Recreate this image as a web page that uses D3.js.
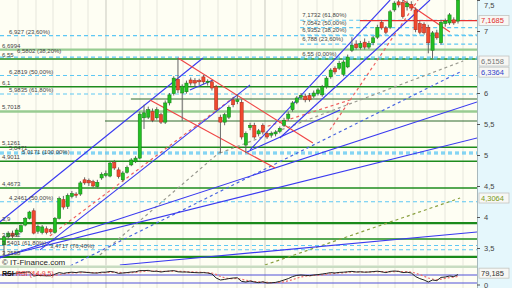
<!DOCTYPE html>
<html><head><meta charset="utf-8">
<script src="https://cdn.jsdelivr.net/npm/d3@7"></script>
<style>body{margin:0;background:#fff}svg{display:block;font-family:"Liberation Sans",Arial,sans-serif}</style>
</head><body><svg id="c" width="512" height="288"></svg>
<script>
// ---------- DATA ----------
const opens  = [3.55,3.68,3.74,3.71,3.76,3.87,3.98,4.10,3.77,3.75,3.81,3.80,3.75,3.98,4.28,4.17,4.33,4.37,4.37,4.60,4.59,4.57,4.49,4.63,4.67,4.66,4.88,4.76,4.60,4.72,4.84,4.89,4.95,5.60,5.61,5.70,5.60,5.65,5.53,5.84,5.99,6.22,6.00,6.02,6.21,6.20,6.20,6.26,6.17,6.18,6.10,5.61,5.53,5.61,5.89,5.86,5.85,5.16,5.44,5.48,5.34,5.48,5.35,5.32,5.34,5.38,5.48,5.59,5.73,5.85,5.93,5.95,5.96,5.95,5.99,5.97,6.10,6.26,6.40,6.40,6.30,6.42,6.69,6.79,6.73,6.82,6.74,6.81,6.90,7.14,7.05,7.06,7.34,7.47,7.46,7.39,7.43,7.34,7.12,7.11,7.06,6.69,6.97,6.81,7.12,7.13,7.18,7.16];
const highs  = [3.70,3.77,3.78,3.82,3.88,4.00,4.10,4.14,3.88,3.87,3.85,3.82,4.00,4.33,4.34,4.38,4.42,4.40,4.58,4.64,4.62,4.60,4.60,4.72,4.75,4.90,4.92,4.80,4.74,4.83,4.95,4.98,5.70,5.81,5.78,5.75,5.77,5.68,5.88,6.00,6.27,6.565,6.14,6.20,6.25,6.24,6.23,6.29,6.22,6.21,6.13,5.65,5.68,5.80,5.93,5.98,5.90,5.38,5.52,5.52,5.42,5.51,5.38,5.38,5.40,5.46,5.60,5.70,5.87,5.95,6.00,5.99,6.00,6.04,6.08,6.13,6.27,6.40,6.43,6.52,6.53,6.62,6.90,6.85,6.84,6.88,6.84,6.92,7.10,7.18,7.08,7.34,7.48,7.50,7.50,7.49,7.48,7.38,7.16,7.14,7.10,7.00,7.02,7.18,7.20,7.29,7.22,7.55];
const lows   = [3.36,3.64,3.66,3.68,3.74,3.85,3.96,3.72,3.73,3.72,3.72,3.73,3.73,3.96,4.12,4.13,4.30,4.31,4.34,4.52,4.50,4.47,4.46,4.60,4.64,4.64,4.76,4.62,4.57,4.70,4.82,4.87,4.93,5.42,5.58,5.53,5.57,5.50,5.50,5.80,5.96,6.00,5.55,5.99,6.12,6.10,6.13,6.14,6.12,6.04,5.70,5.03,5.48,5.58,5.77,5.82,5.25,5.03,5.40,5.26,5.30,5.33,5.26,5.28,5.30,5.35,5.45,5.55,5.70,5.82,5.90,5.85,5.86,5.92,5.96,5.94,6.07,6.23,6.30,6.37,6.27,6.40,6.66,6.70,6.70,6.70,6.71,6.77,6.87,7.02,6.95,7.03,7.31,7.38,7.20,7.33,7.34,6.98,6.95,6.94,6.64,6.56,6.86,6.78,7.07,7.10,7.10,7.12];
const closes = [3.68,3.74,3.69,3.79,3.86,3.98,4.08,3.74,3.85,3.84,3.75,3.76,3.98,4.30,4.16,4.35,4.38,4.35,4.55,4.55,4.55,4.50,4.56,4.69,4.70,4.87,4.79,4.65,4.71,4.80,4.92,4.95,5.66,5.68,5.73,5.56,5.73,5.53,5.84,5.97,6.24,6.05,6.11,6.16,6.16,6.16,6.18,6.18,6.19,6.08,5.73,5.53,5.65,5.77,5.81,5.89,5.29,5.35,5.48,5.29,5.39,5.37,5.29,5.35,5.37,5.43,5.56,5.66,5.84,5.92,5.96,5.89,5.89,6.00,6.05,6.10,6.24,6.37,6.34,6.48,6.50,6.58,6.77,6.73,6.80,6.74,6.80,6.89,7.06,7.05,6.98,7.31,7.45,7.42,7.23,7.45,7.37,7.02,6.98,6.97,6.81,6.97,6.89,7.14,7.16,7.26,7.13,7.50];

const rsiValues = [75,78,76,80,82,84,86,65,68,67,66,66,74,82,78,82,84,82,86,84,82,80,80,84,84,88,85,78,80,82,85,86,92,92,93,88,89,85,88,90,92,86,85,85,83,82,81,82,80,75,55,45,48,52,55,56,38,35,40,35,32,36,30,31,33,38,45,52,62,68,70,68,67,70,72,75,78,82,80,83,84,86,88,85,86,84,85,87,89,86,82,88,90,88,82,84,80,62,52,45,35,45,42,58,60,65,62,72];
const signalValues = [74,75,76,77,78,80,82,79,76,73,70,68,69,72,75,78,80,81,82,83,83,82,81,81,82,83,84,83,82,81,82,83,86,88,90,90,89,88,88,88,89,89,88,87,86,85,84,83,82,80,73,63,56,52,52,53,49,44,41,38,36,35,33,32,32,33,36,41,47,54,60,64,66,68,69,71,73,76,78,80,81,83,85,85,85,85,85,86,87,87,86,86,87,88,87,86,85,79,72,64,55,50,46,49,53,57,59,63];

// horizontal levels (left)
const levelValues = [6.927,6.6994,6.5802,6.55,6.2819,6.1,5.9835,5.7018,5.1261,5.0471,5.0171,4.9011,4.4673,4.2461,3.9,3.6462,3.5401,3.4717,3.3558];
const levelLabels = ["6,927 (23,60%)","6,6994","6,5802 (38,20%)","6,55","6,2819 (50,00%)","6,1","5,9835 (61,80%)","5,7018","5,1261","5,0471","5,0171 (100,00%)","4,9011","4,4673","4,2461 (50,00%)","3,9","3,6462","3,5401 (61,80%)","3,4717 (76,40%)","3,3558"];
const levelKinds  = ["fib","light","fib","green","fib","green","fib","light","green","fib","fib","green","green","fib","thick","green","fib","fib","thick"];
// partial support lines [startIndex, value]
const partialLevels = [[29.9,5.903],[23.8,5.548]];
// right fib
const rightFibValues = [7.1732,7.0542,6.9352,6.788,6.55];
const rightFibLabels = ["7,1732 (61,80%)","7,0542 (50,00%)","6,9352 (38,20%)","6,788 (23,60%)","6,55 (0,00%)"];
const rightFibStart = 69.8;
const lastPrice = 7.1685, lastPriceStart = 83.9;

// trend lines [i1,v1,i2,v2]
const blueLines = [[-1,3.92,46.9,6.565],[8.5,3.47,58,6.13],[58,5.081,91,7.5],[65,5.274,100.4,7.5],[-1,3.339,111.5,5.855],[-1,3.355,111.5,5.274],[27.3,3.226,111.5,3.758],[57.3,5.048,79.2,5.726],[43.8,6.048,49.3,6.21]];
const redLines = [[41,6.565,72.8,5.194],[34.4,5.887,63.9,4.79],[94,7.5,105.1,6.984]];
const redDashed = [[10.8,3.694,54.9,5.968],[76.8,5.403,97.6,7.5],[60.8,5.435,81.5,5.887]];
const grayDashed = [[22.6,3.387,50.9,5.048],[50.9,5.032,108.2,6.516]];
const blueDashed = [[15.6,3.21,107.5,6.339]];
const oliveDashed = [[61.5,3.226,107.5,4.306]];

const gridIdx = [3.3,7.54,11.55,15.79,19.8,24.04,28.05,32.05,36.06,42.19,46.19,50.44,54.91,58.21,61.51,65.52,69.29,73.77,77.54,83.9,88.15,92.15,96.39,99.69,103.94,108.18];
const gridMajor = [24.04,61.51];
const yTicks = [3.5,4,4.5,5,5.5,6,7,7.5];
const boxLabels = [[7.1685,"7,1685","#e03030"],[6.5158,"6,5158","#777"],[6.3364,"6,3364","#3344cc"],[4.3064,"4,3064","#7a9a20"]];
const rsiLevels = [70,30];
const rsiLast = 79.185;

// ---------- SCALES ----------
const W = 512, H = 288, PR = 477, MAINB = 265.5, IT = 268, IB = 288;
const x = d3.scaleLinear().domain([0,107]).range([4,458]);
const y = d3.scaleLinear().domain([7,3.5]).range([31,248]);
const yi = d3.scaleLinear().domain([0,100]).range([289,269]);
const fmt = v => String(v).replace(".", ",");

const svg = d3.select("#c");
const defs = svg.append("defs");
defs.append("clipPath").attr("id","cm").append("rect").attr("x",0).attr("y",0).attr("width",PR).attr("height",MAINB);
defs.append("clipPath").attr("id","ci").append("rect").attr("x",0).attr("y",IT).attr("width",PR).attr("height",IB-IT);

svg.append("rect").attr("x",0).attr("y",0).attr("width",W).attr("height",H).attr("fill","#fefef3");
svg.append("rect").attr("x",PR).attr("y",0).attr("width",W-PR).attr("height",H).attr("fill","#e5f7fc");

const main = svg.append("g").attr("clip-path","url(#cm)");
const ind = svg.append("g").attr("clip-path","url(#ci)");

[main, ind].forEach(g => {
  g.selectAll(null).data(gridIdx).enter().append("line")
    .attr("x1",d=>x(d)).attr("x2",d=>x(d)).attr("y1",0).attr("y2",H)
    .attr("stroke",d=>gridMajor.includes(d)?"#c9c9bf":"#e6e6dc").attr("stroke-width",1);
});

const levelStyle = {
  fib:   {c:"#5ec8f4", w:1.2, d:"4,3"},
  green: {c:"#1e8c1e", w:1.5, d:null},
  thick: {c:"#1a8a1a", w:2.3, d:null},
  light: {c:"#98cc92", w:2.4, d:null}
};
levelValues.forEach((v,k) => {
  const s = levelStyle[levelKinds[k]];
  main.append("line").attr("x1",0).attr("x2",PR).attr("y1",y(v)).attr("y2",y(v))
    .attr("stroke",s.c).attr("stroke-width",s.w).attr("stroke-dasharray",s.d);
});
partialLevels.forEach(p => {
  main.append("line").attr("x1",x(p[0])).attr("x2",PR).attr("y1",y(p[1])).attr("y2",y(p[1]))
    .attr("stroke","#2f6a2f").attr("stroke-width",1.1);
});
rightFibValues.forEach(v => {
  main.append("line").attr("x1",x(rightFibStart)).attr("x2",PR).attr("y1",y(v)).attr("y2",y(v))
    .attr("stroke","#5ec8f4").attr("stroke-width",1.2).attr("stroke-dasharray","4,3");
});

function seg(arr, color, w, dash){
  main.selectAll(null).data(arr).enter().append("line")
    .attr("x1",d=>x(d[0])).attr("y1",d=>y(d[1])).attr("x2",d=>x(d[2])).attr("y2",d=>y(d[3]))
    .attr("stroke",color).attr("stroke-width",w).attr("stroke-dasharray",dash);
}
seg(grayDashed,"#9a9a90",1.2,"3,3");
seg(blueDashed,"#4a66e0",1.2,"3,3");
seg(oliveDashed,"#8aa040",1.2,"3,3");
seg(redDashed,"#ee6060",1.2,"3,3");
seg(blueLines,"#3a3af0",1.1,null);
seg(redLines,"#f04545",1.2,null);
main.append("line").attr("x1",x(lastPriceStart)).attr("x2",PR).attr("y1",y(lastPrice)).attr("y2",y(lastPrice))
  .attr("stroke","#e83030").attr("stroke-width",1.2);

const idx = d3.range(opens.length);
const cg = main.append("g");
cg.selectAll(".wick").data(idx).enter().append("line")
  .attr("x1",i=>x(i)).attr("x2",i=>x(i)).attr("y1",i=>y(highs[i])).attr("y2",i=>y(lows[i]))
  .attr("stroke","#666").attr("stroke-width",1);
cg.selectAll(".body").data(idx).enter().append("rect")
  .attr("x",i=>x(i)-1.6).attr("width",3.2)
  .attr("y",i=>y(Math.max(opens[i],closes[i])))
  .attr("height",i=>Math.max(1,Math.abs(y(opens[i])-y(closes[i]))))
  .attr("fill",i=>closes[i]>=opens[i]?"#22c022":"#f0492e")
  .attr("stroke",i=>closes[i]>=opens[i]?"#127a12":"#a8261a").attr("stroke-width",0.5);

// level labels (side by side where two levels nearly coincide)
const lab = svg.append("g").attr("font-size",6).attr("fill","#444");
const labelX = k => {
  const t = levelLabels[k];
  if (t === "6,5802 (38,20%)") return 17;
  if (t === "5,0171 (100,00%)") return 22;
  if (t === "3,4717 (76,40%)") return 50;
  if (t === "3,5401 (61,80%)") return 2;
  return levelKinds[k] === "fib" ? 9 : 2;
};
const labelDy = k => {
  const t = levelLabels[k];
  if (t === "6,5802 (38,20%)") return -4;
  if (t === "5,0171 (100,00%)") return 0.5;
  if (t === "3,5401 (61,80%)") return -1;
  return -2;
};
levelValues.forEach((v,k) => {
  lab.append("text").attr("x", labelX(k)).attr("y", y(v)+labelDy(k)).text(levelLabels[k]);
});
rightFibValues.forEach((v,k) => {
  lab.append("text").attr("x", x(rightFibStart)+2).attr("y", y(v)-3).text(rightFibLabels[k]);
});

svg.append("rect").attr("x",0).attr("y",MAINB).attr("width",PR).attr("height",IT-MAINB).attr("fill","#c8dcc2");
svg.append("text").attr("x",2).attr("y",265).attr("font-size",8).attr("fill","#222").text("© IT-Finance.com");
rsiLevels.forEach(v => {
  ind.append("line").attr("x1",0).attr("x2",PR).attr("y1",yi(v)).attr("y2",yi(v)).attr("stroke","#5050d8").attr("stroke-width",1);
});
ind.append("path").datum(signalValues).attr("fill","none").attr("stroke","#f07070").attr("stroke-width",1.2).attr("stroke-dasharray","2,2")
  .attr("d", d3.line().x((d,i)=>x(i)).y(d=>yi(d)));
ind.append("path").datum(rsiValues).attr("fill","none").attr("stroke","#222").attr("stroke-width",1)
  .attr("d", d3.line().x((d,i)=>x(i)).y(d=>yi(d)));
svg.append("text").attr("x",2).attr("y",276).attr("font-size",7).attr("font-weight","bold").attr("fill","#111").text("RSI");
svg.append("text").attr("x",16).attr("y",276).attr("font-size",7).attr("fill","#e84040").text("RSI (14,9,5)");

svg.append("line").attr("x1",PR+0.5).attr("x2",PR+0.5).attr("y1",0).attr("y2",H).attr("stroke","#a8b8bc");
const ax = svg.append("g").attr("transform",`translate(${PR},0)`)
  .call(d3.axisRight(y).tickValues(yTicks).tickSize(3).tickPadding(4).tickFormat(fmt));
ax.select(".domain").remove();
ax.selectAll("line").attr("stroke","#555");
ax.selectAll("text").attr("font-size",7.5).attr("fill","#444").attr("font-family","Liberation Sans, Arial");
ax.selectAll(".tick").filter(d => d === 7.5).select("text").attr("dy","0.95em");
svg.append("line").attr("x1",PR).attr("x2",PR+3).attr("y1",285).attr("y2",285).attr("stroke","#555");
svg.append("text").attr("x",PR+7).attr("y",287.5).attr("font-size",7.5).attr("fill","#444").text("0");

function box(yy, txt, col){
  svg.append("rect").attr("x",PR+2).attr("y",yy-5).attr("width",30).attr("height",10)
    .attr("fill","#f7f7f4").attr("stroke","#c4c4c0").attr("stroke-width",0.8);
  svg.append("text").attr("x",PR+4).attr("y",yy+2.6).attr("font-size",7.5).attr("fill",col).text(txt);
}
boxLabels.forEach(b => box(y(b[0]), b[1], b[2]));
box(Math.min(Math.max(yi(rsiLast), IT+5), 277), fmt(rsiLast), "#333");
</script></body></html>
